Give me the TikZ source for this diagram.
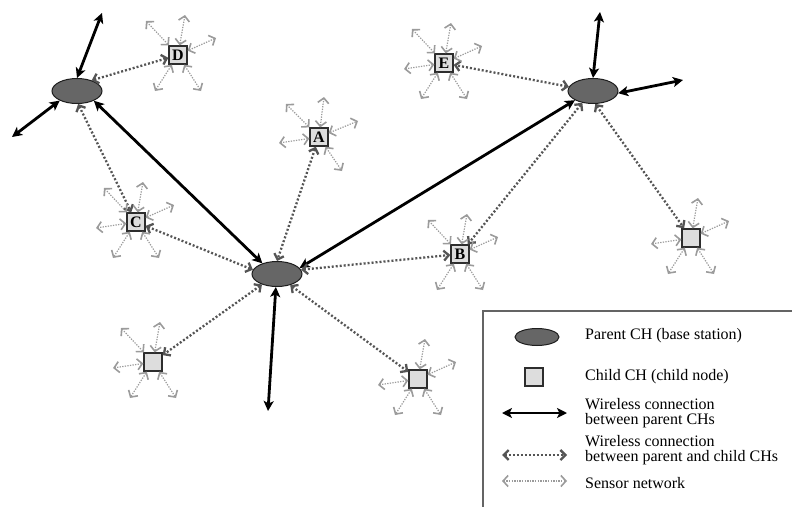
\documentclass[tikz,border=0pt]{standalone}
\usepackage{fontspec}
\setmainfont{Liberation Serif}
\usetikzlibrary{arrows.meta,calc,shapes.geometric}
\definecolor{parentFill}{RGB}{102,102,102}
\definecolor{parentStroke}{RGB}{30,30,30}
\definecolor{childFill}{RGB}{221,221,221}
\definecolor{childStroke}{RGB}{45,45,45}
\definecolor{linkDark}{RGB}{85,85,85}
\definecolor{linkLight}{RGB}{155,155,155}
\definecolor{frameStroke}{RGB}{100,100,100}
\colorlet{ink}{black}
\tikzset{
  backbone/.style={{Stealth[length=10pt,width=10pt,inset=2.5pt]}-{Stealth[length=10pt,width=10pt,inset=2.5pt]}, draw=ink, line width=2.8pt},
  uplink/.style={{Straight Barb[length=5pt,width=10pt]}-{Straight Barb[length=5pt,width=10pt]}, draw=linkDark, line width=2.3pt, dash pattern=on 2pt off 2pt},
  sensor/.style={{Straight Barb[length=5pt,width=11pt,line width=1.6pt]}-{Straight Barb[length=5pt,width=11pt,line width=1.6pt]}, draw=linkLight, line width=1.2pt, dash pattern=on 1.3pt off 1.3pt},
  parent/.style={
    ellipse,
    draw=parentStroke,
    fill=parentFill,
    line width=1pt,
    minimum width=50pt,
    minimum height=25pt,
    inner sep=0pt
  },
  child/.style={
    rectangle,
    draw=childStroke,
    fill=childFill,
    line width=1.3pt,
    minimum size=18pt,
    inner sep=0pt,
    font=\fontsize{16}{16}\selectfont\bfseries
  },
  keytext/.style={anchor=west, inner sep=0pt, align=left, font=\fontsize{16}{15.5}\selectfont}
}
% sensor arrows around a child CH: list of name/dx/dy
\newcommand{\SensorFan}[2]{%
  \foreach \dir/\dx/\dy in {#2}{%
    \coordinate (#1\dir) at ($(#1)+(\dx,\dy)$);
    \draw[sensor] (#1) -- (#1\dir);
  }%
}

\begin{document}
\begin{tikzpicture}[x=1pt,y=-1pt]
  \useasboundingbox (0,0) rectangle (792,506);

  % parent CHs
  \node[parent] (westch) at (77,91) {};
  \node[parent] (hubch) at (277,274) {};
  \node[parent] (eastch) at (593,91) {};

  % child CHs
  \node[child] (chD) at (178,55) {D};
  \node[child] (chC) at (136,222) {C};
  \node[child] (chE) at (444,63) {E};
  \node[child] (chA) at (319,137) {A};
  \node[child] (chB) at (460,254) {B};
  \node[child] (chR) at (691,238) {};
  \node[child] (chSW) at (153,362) {};
  \node[child] (chSE) at (418,379) {};

  % links to the outside
  \coordinate (westup) at (102,13);
  \coordinate (westleft) at (12,137);
  \coordinate (hubdown) at (268,411);
  \coordinate (eastup) at (600,12);
  \coordinate (eastright) at (683,80);

  \draw[backbone] (westch.north) -- (westup);
  \draw[backbone] (westch.209) -- (westleft);
  \draw[backbone] (westch.-30) -- (hubch.144);
  \draw[backbone] (eastch.207) -- (hubch.15);
  \draw[backbone] (hubch.-95) -- (hubdown);
  \draw[backbone] (eastch.north) -- (eastup);
  \draw[backbone] (eastch.-5) -- (eastright);

  \draw[uplink] (westch.36) -- (chD);
  \draw[uplink] (westch.-85) -- (chC);
  \draw[uplink] (chC) -- (hubch.170);
  \draw[uplink] (chA) -- (hubch.north);
  \draw[uplink] (hubch.215) -- (chSW);
  \draw[uplink] (hubch.-40) -- (chSE);
  \draw[uplink] (hubch.10) -- (chB);
  \draw[uplink] (eastch.170) -- (chE);
  \draw[uplink] (eastch.228) -- (chB);
  \draw[uplink] (eastch.-80) -- (chR);

  \SensorFan{chD}{ul/-32/-34, u/7/-40, ur/38/-17, ll/-23/36, lr/23/36}
  \SensorFan{chC}{ul/-32/-34, u/7/-40, ur/38/-17, l/-40/6, ll/-23/36, lr/23/36}
  \SensorFan{chE}{ul/-32/-34, u/7/-40, ur/38/-17, l/-40/6, ll/-23/36, lr/23/36}
  \SensorFan{chA}{ul/-33/-33, u/5/-40, ur/39/-16, l/-40/6, lr/23/34}
  \SensorFan{chB}{ul/-32/-34, u/7/-40, ur/38/-17, ll/-23/36, lr/23/36}
  \SensorFan{chR}{u/7/-40, ur/38/-17, l/-40/6, ll/-23/36, lr/23/36}
  \SensorFan{chSW}{ul/-32/-34, u/7/-40, l/-40/6, ll/-23/36, lr/23/36}
  \SensorFan{chSE}{u/7/-40, ur/38/-17, l/-40/6, ll/-23/36, lr/23/36}

  % legend
  \draw[draw=frameStroke, line width=1.5pt] (795,311) -| (483,509);
  \node[parent, minimum width=44pt, minimum height=17pt] (keyparent) at (537,337) {};
  \node[child] (keychild) at (534,377) {};
  \coordinate (keybackL) at (502,413);
  \coordinate (keybackR) at (567,413);
  \coordinate (keyupL) at (502,455);
  \coordinate (keyupR) at (567,455);
  \coordinate (keysensL) at (502,481);
  \coordinate (keysensR) at (567,481);
  \draw[backbone] (keybackL) -- (keybackR);
  \draw[uplink] (keyupL) -- (keyupR);
  \draw[sensor] (keysensL) -- (keysensR);
  \node[keytext] (keyparenttext) at (585,336) {Parent CH (base station)};
  \node[keytext] (keychildtext) at (585,377) {Child CH (child node)};
  \node[keytext] (keybacktext) at (585,413) {Wireless connection\\between parent CHs};
  \node[keytext] (keyuptext) at (585,450) {Wireless connection\\between parent and child CHs};
  \node[keytext] (keysenstext) at (585,483) {Sensor network};
\end{tikzpicture}
\end{document}
